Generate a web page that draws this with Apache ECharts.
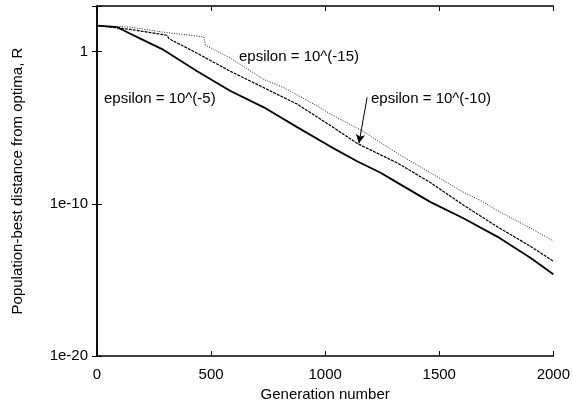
<!DOCTYPE html>
<html>
<head>
<meta charset="utf-8">
<script src="https://cdn.jsdelivr.net/npm/echarts@6/dist/echarts.min.js"></script>
<style>
html,body{margin:0;padding:0;background:#fff;}
#chart{width:573px;height:407px;}
</style>
</head>
<body>
<div id="chart"></div>
<script>
// Generation numbers and population-best distance R for each epsilon
const gen1 = [0, 88, 146, 190, 292, 439, 585, 731, 877, 1023, 1140, 1243, 1316, 1462, 1608, 1754, 1901, 2000];
const eps5 = [52, 41, 15, 7.2, 1.3, 5.1e-2, 2.6e-3, 2.2e-4, 1.1e-5, 5.8e-7, 6.3e-8, 1.1e-8, 2.5e-9, 1.3e-10, 1.1e-11, 7.1e-13, 2.8e-14, 2.4e-15];

const gen2 = [0, 146, 307, 315, 439, 585, 731, 877, 1023, 1140, 1316, 1462, 1608, 1754, 1901, 2000];
const eps10 = [52, 29, 12, 7.2, 0.78, 5.1e-2, 4.3e-3, 3.6e-4, 1.4e-5, 9.5e-7, 4.9e-8, 2.5e-9, 7.9e-11, 3.2e-12, 1.6e-13, 1.7e-14];

const gen3 = [0, 146, 292, 468, 475, 585, 731, 819, 950, 1023, 1170, 1316, 1462, 1608, 1681, 1754, 1901, 2000];
const eps15 = [52, 41, 19, 9.3, 2.7, 0.37, 1.5e-2, 4.3e-3, 3.6e-4, 8.1e-5, 5.4e-6, 2.1e-7, 1.1e-8, 5.6e-10, 1.7e-10, 3.7e-11, 2.5e-12, 3.7e-13];

const yTickLabels = {'-20': '1e-20', '-10': '1e-10', '0': '1'};

// Arrow pointing to the epsilon = 10^(-10) curve
const arrowFrom = [1184, 1.0e-3];
const arrowTo = [1148, 9.5e-7];

const FONT = 'Liberation Sans, Arial, Helvetica, sans-serif';

function zip(xs, ys) { return xs.map((x, i) => [x, ys[i]]); }

const chart = echarts.init(document.getElementById('chart'), null, {renderer: 'canvas'});

const axisLine = {show: true, lineStyle: {color: '#000', width: 1.5}};
const tick = {show: true, inside: true, length: 5, lineStyle: {color: '#000', width: 1}};

chart.setOption({
  animation: false,
  backgroundColor: '#fff',
  grid: {left: 97, right: 19, top: 6, bottom: 46, containLabel: false},
  xAxis: [{
    type: 'value', min: 0, max: 2000, interval: 500,
    name: 'Generation number', nameLocation: 'middle', nameGap: 29,
    nameTextStyle: {fontFamily: FONT, fontSize: 15, color: '#000'},
    axisLine: axisLine, axisTick: tick,
    axisLabel: {fontFamily: FONT, fontSize: 15, color: '#000', margin: 11,
      formatter: function (v) { return String(v); }},
    splitLine: {show: false}
  }, {
    type: 'value', min: 0, max: 2000, interval: 500, position: 'top',
    axisLine: axisLine, axisTick: tick,
    axisLabel: {show: false}, splitLine: {show: false}
  }],
  yAxis: [{
    type: 'log', logBase: 10, min: 1e-20, max: 1e3, interval: 10,
    name: 'Population-best distance from optima, R', nameLocation: 'middle', nameGap: 72,
    nameTextStyle: {fontFamily: FONT, fontSize: 15, color: '#000'},
    axisLine: axisLine, axisTick: tick,
    axisLabel: {
      fontFamily: FONT, fontSize: 15, color: '#000', margin: 9,
      formatter: function (v) {
        const e = Math.round(Math.log10(v));
        return yTickLabels[String(e)] || '';
      }
    },
    splitLine: {show: false}
  }, {
    type: 'log', logBase: 10, min: 1e-20, max: 1e3, interval: 10, position: 'right',
    axisLine: axisLine, axisTick: tick,
    axisLabel: {show: false}, splitLine: {show: false}
  }],
  series: [{
    name: 'epsilon = 10^(-15)', type: 'line', showSymbol: false,
    data: zip(gen3, eps15),
    lineStyle: {color: '#222', width: 1, type: [1, 1.5]}
  }, {
    name: 'epsilon = 10^(-10)', type: 'line', showSymbol: false,
    data: zip(gen2, eps10),
    lineStyle: {color: '#000', width: 1.2, type: [3, 1]},
    markLine: {
      silent: true, animation: false,
      symbol: ['none', 'arrow'], symbolSize: [7, 9],
      label: {show: false},
      lineStyle: {color: '#000', width: 1, type: 'solid'},
      data: [[{coord: arrowFrom}, {coord: arrowTo}]]
    }
  }, {
    name: 'epsilon = 10^(-5)', type: 'line', showSymbol: false,
    data: zip(gen1, eps5),
    lineStyle: {color: '#000', width: 1.8}
  }],
  graphic: [
    {type: 'text', left: 239, top: 49, style: {text: 'epsilon = 10^(-15)', font: '15px ' + FONT, fill: '#000'}},
    {type: 'text', left: 104, top: 91, style: {text: 'epsilon = 10^(-5)', font: '15px ' + FONT, fill: '#000'}},
    {type: 'text', left: 371, top: 91, style: {text: 'epsilon = 10^(-10)', font: '15px ' + FONT, fill: '#000'}}
  ]
});
</script>
</body>
</html>
